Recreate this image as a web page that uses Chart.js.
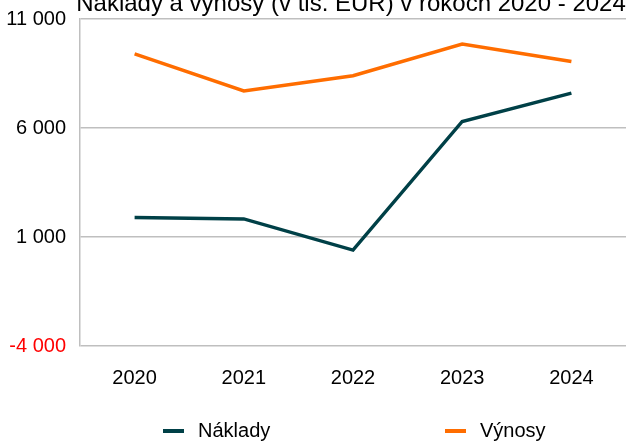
<!DOCTYPE html>
<html>
<head>
<meta charset="utf-8">
<script src="https://cdn.jsdelivr.net/npm/chart.js@4"></script>
<style>
  html, body { margin: 0; padding: 0; background: #fff; }
  #wrap { width: 626px; height: 441px; position: relative; }
</style>
</head>
<body>
<div id="wrap"><canvas id="myLineChart"></canvas></div>
<script>
// Data
const roky = ['2020', '2021', '2022', '2023', '2024'];
const naklady = [1900, 1830, 400, 6300, 7600];
const vynosy = [9400, 7700, 8400, 9850, 9050];
const yTicks = [-4000, 1000, 6000, 11000];
const nadpis = 'Náklady a výnosy (v tis. EUR) v rokoch 2020 - 2024';

const FONT = '"Liberation Sans", Arial, sans-serif';

// nadpis - je orezany hore ako v povodnom obrazku
const titlePlugin = {
    id: 'orezanyNadpis',
    afterDraw(chart) {
        const ctx = chart.ctx;
        ctx.save();
        ctx.font = '24px ' + FONT;
        ctx.fillStyle = '#000';
        ctx.textAlign = 'center';
        ctx.textBaseline = 'alphabetic';
        ctx.fillText(nadpis, 351, 11);
        ctx.restore();
    }
};

// legenda s velkymi medzerami (ako v Exceli)
const legendPlugin = {
    id: 'sirokaLegenda',
    afterDraw(chart) {
        const ctx = chart.ctx;
        const pos = [163, 445];
        ctx.save();
        ctx.font = '20px ' + FONT;
        ctx.textBaseline = 'middle';
        chart.data.datasets.forEach((ds, i) => {
            ctx.fillStyle = ds.borderColor;
            ctx.fillRect(pos[i], 429, 21, 4);
            ctx.fillStyle = '#000';
            ctx.fillText(ds.label, pos[i] + 35, 431);
        });
        ctx.restore();
    }
};

const ctxLine = document.getElementById('myLineChart').getContext('2d');
const myLineChart = new Chart(ctxLine, {
    type: 'line',
    data: {
        labels: roky,
        datasets: [
            {
                label: 'Náklady',
                data: naklady,
                borderColor: '#004047',
                backgroundColor: '#004047',
                borderWidth: 3.5,
                pointRadius: 0,
                tension: 0,
            },
            {
                label: 'Výnosy',
                data: vynosy,
                borderColor: '#FF6D00',
                backgroundColor: '#FF6D00',
                borderWidth: 3.5,
                pointRadius: 0,
                tension: 0,
            }
        ]
    },
    options: {
        responsive: true,
        maintainAspectRatio: false,
        animation: false,
        layout: { padding: { top: 19, right: 0, bottom: 31, left: 0 } },
        plugins: {
            legend: { display: false },
            title: { display: false },
            tooltip: { enabled: false },
        },
        scales: {
            x: {
                offset: true,
                grid: { display: false, drawTicks: false },
                border: { display: false },
                ticks: {
                    color: '#000',
                    font: { family: FONT, size: 20 },
                    padding: 20,
                    maxRotation: 0,
                },
            },
            y: {
                min: -4000,
                max: 11000,
                afterBuildTicks(axis) {
                    axis.ticks = yTicks.map(v => ({ value: v }));
                },
                afterFit(axis) {
                    axis.width = 80;
                    axis.paddingTop = 0;
                    axis.paddingBottom = 0;
                },
                grid: { color: '#BFBFBF', lineWidth: 1.5, drawTicks: false },
                border: { display: true, color: '#BFBFBF', width: 1.5 },
                ticks: {
                    padding: 14,
                    font: { family: FONT, size: 20 },
                    color: ctx => (ctx.tick && ctx.tick.value < 0 ? '#FF0000' : '#000'),
                    callback: v => (v < 0 ? '-' : '') + Math.abs(v).toString().replace(/\B(?=(\d{3})+(?!\d))/g, ' '),
                },
            },
        },
    },
    plugins: [titlePlugin, legendPlugin],
});
</script>
</body>
</html>
